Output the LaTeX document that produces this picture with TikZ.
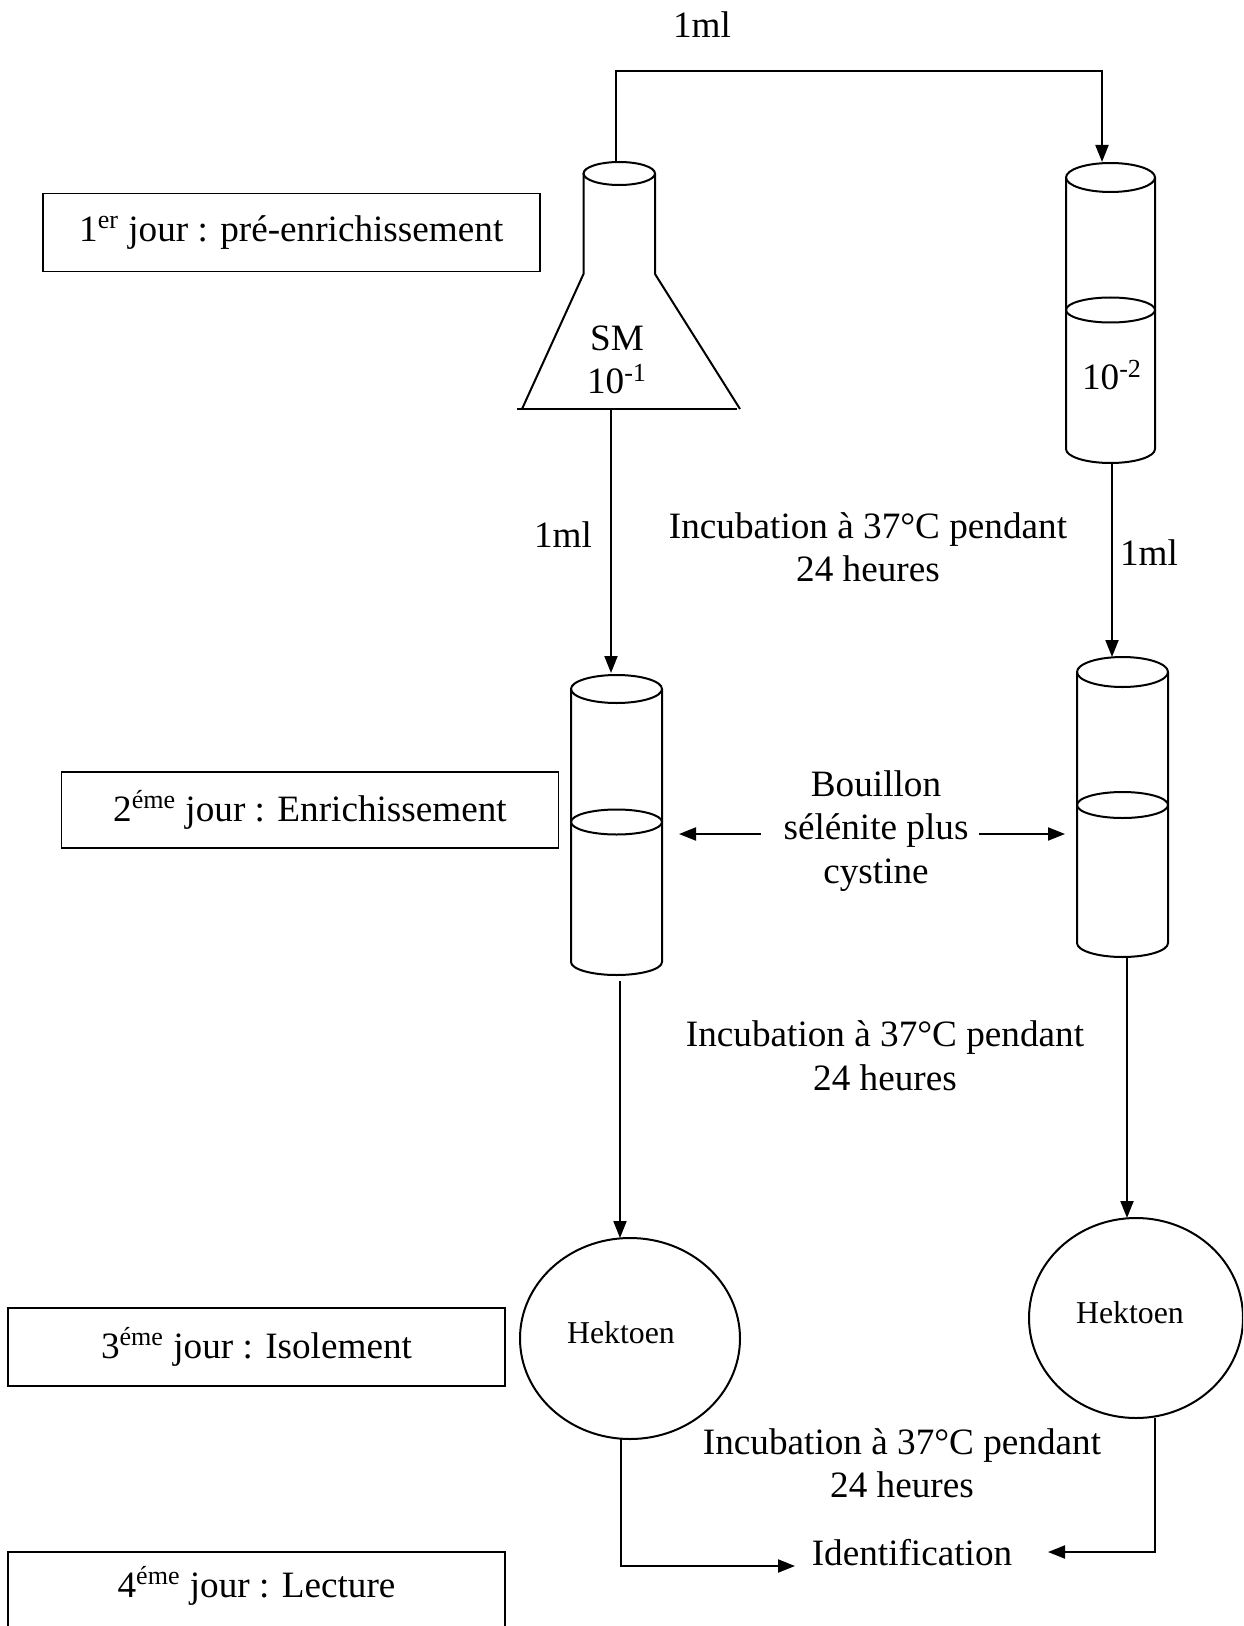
\documentclass[tikz,border=0pt]{standalone}
\usepackage{fontspec}
\setmainfont{Liberation Serif}
\usetikzlibrary{arrows.meta,shapes.geometric}

% one coordinate unit = one pixel of the 1243 x 1626 sheet, y pointing down
\tikzset{
  every node/.style={inner sep=0pt, font=\fontsize{18.6pt}{21.75pt}\selectfont},
  small/.style={font=\fontsize{15.9pt}{19pt}\selectfont},
  daybox/.style={draw, line width=0.9pt, minimum width=248.5pt, minimum height=39pt},
  flow/.style={-{Triangle[length=8.5pt,width=6.5pt]}},
  plate/.style={draw, ellipse},
  glass/.style={line width=1pt},
}

% test tube: centre x, half width, top y, top ry, level y, level ry, bottom y, bottom ry
\newcommand\testtube[8]{%
  \draw[glass] (#1,#3) ellipse [x radius=#2, y radius=#4];
  \draw[glass] (#1,#5) ellipse [x radius=#2, y radius=#6];
  \draw[glass] (#1-#2,#3) -- (#1-#2,#7)
     arc [start angle=180, end angle=0, x radius=#2, y radius=#8]
     -- (#1+#2,#3);
}

\begin{document}
\begin{tikzpicture}[x=0.5pt, y=-0.5pt, line width=1pt]
\useasboundingbox (0,0) rectangle (1243,1626);
\clip (0,0) rectangle (1243,1626);

% ---- day labels ----
\node[daybox] (day1) at (291.25,232.5) {1\textsuperscript{er} jour : pré-enrichissement};
\node[daybox, minimum height=38pt] (day2) at (310,810) {2\textsuperscript{éme} jour : Enrichissement};
\node[daybox] (day3) at (256.5,1347) {3\textsuperscript{éme} jour : Isolement};
\draw[line width=0.9pt] (8,1660) -- (8,1552) -- (505,1552) -- (505,1660);
\node (day4) at (256.5,1586) {4\textsuperscript{éme} jour : Lecture};

% ---- Erlenmeyer flask (SM 10^-1) ----
\draw[glass] (619.25,173.5) ellipse [x radius=35.75, y radius=11.5];
\draw[glass] (583.5,173.5) -- (583.5,274) -- (522,409);
\draw[glass] (655,173.5) -- (655,274) -- (740,409);
\draw[glass] (517,409) -- (737,409);
\node[align=center] (sm) at (617,360) {SM\\10\textsuperscript{-1}};
\coordinate (flaskTop) at (616,162);
\coordinate (flaskOut) at (611,409);

% ---- tube 10^-2 ----
\testtube{1110.5}{44.5}{177.5}{14.5}{310}{12.5}{449}{14}
\node (dil) at (1112,375) {10\textsuperscript{-2}};
\coordinate (dilIn) at (1102,162);
\coordinate (dilOut) at (1112,463);

% ---- selenite tubes ----
\testtube{616.5}{45.5}{689}{14}{822}{12.5}{962}{13}
\testtube{1122.5}{45.5}{672}{15}{805}{13}{943}{14}
\coordinate (selLIn) at (611,673);
\coordinate (selLOut) at (620,981);
\coordinate (selRIn) at (1112,657);
\coordinate (selROut) at (1127,957);
\coordinate (selLSide) at (679,834);
\coordinate (selRSide) at (1065,834);
\coordinate (brothL) at (761,834);
\coordinate (brothR) at (979,834);

% ---- Hektoen plates ----
\node[plate, glass, minimum width=110pt, minimum height=100.5pt] (hekL) at (630,1338.5) {};
\node[plate, glass, minimum width=107pt, minimum height=100pt] (hekR) at (1136,1318) {};
\node[small] (hekLtxt) at (621,1333) {Hektoen};
\node[small] (hekRtxt) at (1130,1313) {Hektoen};
\coordinate (hekLIn) at (620,1238);
\coordinate (hekLOut) at (621,1439);
\coordinate (hekRIn) at (1127,1218);
\coordinate (hekROut) at (1155,1418);

% ---- texts ----
\node (ml0) at (702,24.5) {1ml};
\node (ml1) at (563,535) {1ml};
\node (ml2) at (1149,553) {1ml};
\node[align=center] (inc1) at (868,547) {Incubation à 37°C pendant\\24 heures};
\node[align=center] (inc2) at (885,1055.5) {Incubation à 37°C pendant\\24 heures};
\node[align=center] (inc3) at (902,1463) {Incubation à 37°C pendant\\24 heures};
\node[align=center] (broth) at (876,831) {Bouillon\\sélénite plus\\cystine};
\node (ident) at (912,1553) {Identification};
\coordinate (identL) at (795,1566);
\coordinate (identR) at (1048,1552);
\coordinate (topline) at (0,71);

% ---- connectors ----
\draw[flow] (flaskTop) -- (flaskTop |- topline) -| (dilIn);
\draw[flow] (flaskOut) -- (selLIn);
\draw[flow] (dilOut) -- (selRIn);
\draw[flow] (brothL) -- (selLSide);
\draw[flow] (brothR) -- (selRSide);
\draw[flow] (selLOut) -- (hekLIn);
\draw[flow] (selROut) -- (hekRIn);
\draw[flow] (hekLOut) |- (identL);
\draw[flow] (hekROut) |- (identR);
\end{tikzpicture}
\end{document}
